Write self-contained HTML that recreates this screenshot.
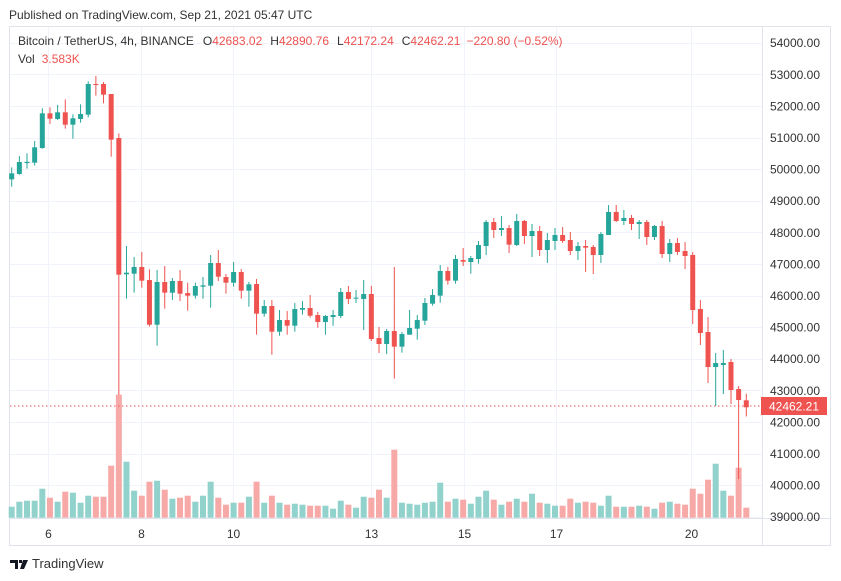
<!DOCTYPE html>
<html><head><meta charset="utf-8">
<style>
html,body{margin:0;padding:0;background:#fff;width:841px;height:581px;overflow:hidden;font-family:"Liberation Sans",sans-serif;}
</style></head>
<body>
<svg id="chart" width="841" height="581" xmlns="http://www.w3.org/2000/svg" font-family="Liberation Sans, sans-serif">
<text x="9" y="19" font-size="12" fill="#333">Published on TradingView.com, Sep 21, 2021 05:47 UTC</text>
<rect x="9.5" y="26.5" width="821" height="519" fill="#fff" stroke="#e0e3eb"/>
<g id="grid"></g>
<g id="vol"></g>
<line x1="10" y1="406" x2="762" y2="406" stroke="#ef5350" stroke-dasharray="1.5,2.5"/>
<g id="candles"></g>
<line x1="762.5" y1="27" x2="762.5" y2="545" stroke="#e0e3eb"/>
<line x1="10" y1="518.5" x2="830" y2="518.5" stroke="#e0e3eb"/>
<g id="yticks"></g>
<g id="xticks"></g>
<rect x="761" y="397" width="66" height="18" fill="#ef5350"/>
<text x="794" y="410.5" font-size="12" fill="#fff" text-anchor="middle">42462.21</text>
<text x="18" y="45" font-size="12" fill="#333">Bitcoin / TetherUS, 4h, BINANCE<tspan dx="9">O</tspan><tspan fill="#ef5350">42683.02</tspan><tspan dx="8">H</tspan><tspan fill="#ef5350">42890.76</tspan><tspan dx="8">L</tspan><tspan fill="#ef5350">42172.24</tspan><tspan dx="8">C</tspan><tspan fill="#ef5350">42462.21</tspan><tspan dx="6" fill="#ef5350">−220.80 (−0.52%)</tspan></text>
<text x="18" y="63" font-size="12" fill="#333">Vol<tspan dx="7" fill="#ef5350">3.583K</tspan></text>
<g>
<path d="M10 560h8v9h-3v-6h-5z M19 560h3v3h-3z M23 560h5l-4 9h-4z" fill="#131722"/>
<text x="32" y="568" font-size="13" fill="#333">TradingView</text>
</g>
</svg>
<script>
const opens=[49676,49845,50190,50204,50668,51765,51586,51797,51406,51586,51723,52693,52693,52377,50984,46670,46690,46902,46490,45076,46427,46089,46458,46078,45994,46279,46310,47028,46585,46405,46743,46152,46363,45425,45667,44855,45224,45045,45551,45604,45382,45161,45319,45351,46110,45899,45889,46047,44654,44465,44876,44381,44760,44950,45203,45741,45995,46775,46469,47123,47060,47155,47566,48326,48073,48136,47598,48358,47883,48041,47440,47725,47915,47756,47408,47566,47535,47282,47915,48643,48358,48453,48263,48326,47851,48200,47313,47661,47408,47282,45573,44845,43737,43800,43896,43040,42683];
const closes=[49866,50225,50230,50689,51765,51596,51797,51406,51607,51744,52693,52683,52356,50932,46659,46722,46902,46469,45076,46427,46089,46458,46057,45994,46300,46321,47028,46595,46405,46743,46152,46353,45425,45667,44855,45224,45045,45572,45604,45361,45161,45351,45382,46110,45889,45931,46047,44623,44465,44876,44381,44781,44971,45224,45762,46015,46775,46469,47155,47070,47187,47598,48326,48073,48136,47609,48358,47883,48041,47440,47756,47915,47725,47408,47566,47514,47282,47946,48643,48358,48453,48263,48326,47851,48200,47313,47661,47377,47250,45541,44813,43737,43864,43864,43009,42693,42462];
const highs=[50056,50414,50500,50889,51923,51955,52029,52208,51733,52050,52778,52947,52757,52377,51132,47566,47218,47376,46828,46806,46933,46553,46806,46406,46406,46585,47281,47439,46680,47060,46838,46427,46522,45857,45857,45540,45509,45762,45825,46015,45477,45382,45540,46237,46300,46173,46490,46300,45002,44939,46902,44845,45541,45382,45921,46205,46965,46902,47282,47503,47250,47725,48389,48453,48516,48231,48579,48389,48263,48200,47978,48136,48168,48010,47693,47756,47598,48010,48864,48864,48706,48548,48389,48389,48231,48358,47788,47820,47693,47377,45857,45319,44180,44275,43990,43136,42890];
const lows=[49444,49824,50014,50109,50647,51427,51554,51280,50963,51470,51638,52324,52082,50393,42851,45899,46090,46247,45013,44412,45583,45857,45826,45520,45900,45899,45614,46458,46057,46279,45899,45646,44760,45330,44127,44728,44760,44855,45393,45298,44981,44760,45045,45287,45730,45762,44907,44559,44180,44148,43368,44191,44760,44602,45066,45678,45773,46343,46374,46934,46691,47007,47282,47820,47883,47345,47566,47630,47218,47250,47029,47440,47661,47282,47123,46743,46680,47029,47915,48326,48231,48073,47788,47598,47756,47187,47060,47282,46839,45097,44433,43231,42503,42883,42566,40192,42172];
const volumes=[11,16,17,17,29,20,16,26,25,15,22,21,21,52,123,56,27,22,36,37,28,19,20,22,16,22,36,20,13,15,15,21,36,15,22,15,13,14,13,12,12,12,9,17,13,10,21,20,28,20,68,15,14,13,15,16,35,16,19,18,14,21,27,18,13,16,19,16,24,15,14,12,12,19,15,16,15,12,22,11,11,11,12,11,9,15,16,14,13,29,24,38,54,27,22,50,10];
const priceTicks=[54000,53000,52000,51000,50000,49000,48000,47000,46000,45000,44000,43000,42000,41000,40000,39000];
const dayLabels=["6","8","10","13","15","17","20"];
const dayIndex=[4.74,16.9,28.9,46.9,59.1,71.1,88.8];

const NS="http://www.w3.org/2000/svg";
const xOf=i=>11.7+i*7.652;
const yOf=p=>42.7+(54000-p)/1000*31.6;
const yVol=v=>517.7-v;
function mk(tag,attrs,parent){const e=document.createElementNS(NS,tag);for(const k in attrs)e.setAttribute(k,attrs[k]);parent.appendChild(e);return e;}
const grid=document.getElementById('grid'),yt=document.getElementById('yticks'),xt=document.getElementById('xticks');
const cg=document.getElementById('candles'),vg=document.getElementById('vol');
priceTicks.forEach(p=>{
  const y=Math.round(yOf(p))+0.5;
  const l=mk('line',{x1:10,x2:762,y1:y,y2:y,stroke:'#f0f3fa'},grid);
  
  
  const t=mk('text',{x:820,y:yOf(p)+4.5,'font-size':12,fill:'#333','text-anchor':'end'},yt);
  t.textContent=p.toFixed(2);
  
  
});
dayLabels.forEach((d,k)=>{
  const x=Math.round(xOf(dayIndex[k]))+0.5;
  const l=mk('line',{x1:x,x2:x,y1:27,y2:518,stroke:'#f0f3fa'},grid);
  
  
  const t=mk('text',{x:x,y:538,'font-size':12,fill:'#333','text-anchor':'middle'},xt);
  t.textContent=d;
  
  
});
opens.forEach((o,i)=>{
  const c=closes[i],up=c>=o,col=up?'#26a69a':'#ef5350';
  const x=xOf(i);
  const vb=mk('rect',{x:x-3,y:yVol(volumes[i]),width:6,height:volumes[i],fill:up?'#92d2cc':'#f7a9a7'},vg);
  
  
  const w=mk('line',{x1:x,x2:x,y1:yOf(highs[i]),y2:yOf(lows[i]),stroke:col,'stroke-width':1},cg);
  
  
  const top=yOf(Math.max(o,c)),bot=yOf(Math.min(o,c));
  const b=mk('rect',{x:x-2.5,y:top,width:5,height:Math.max(1,bot-top),fill:col},cg);
  
  
});
</script>
</body></html>
